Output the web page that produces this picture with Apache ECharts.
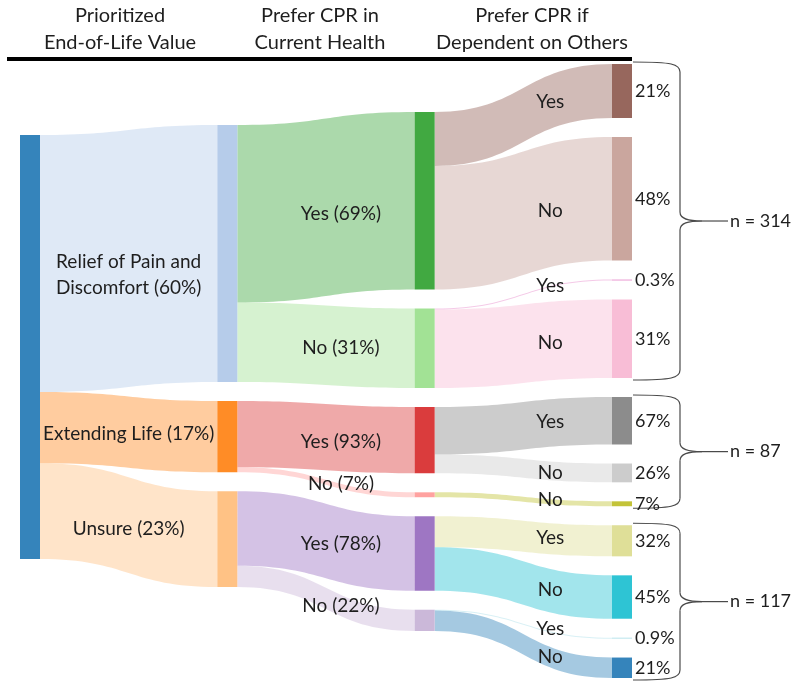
<!DOCTYPE html>
<html><head><meta charset="utf-8">
<script src="https://cdn.jsdelivr.net/npm/echarts@6/dist/echarts.min.js"></script>
<style>html,body{margin:0;padding:0;background:#fff}#c{width:800px;height:691px}</style>
</head><body><div id="c"></div>
<script>
// ---------- data ----------
const nodeNames = ['All', 'Relief', 'Extending', 'Unsure',
  'R-Yes', 'R-No', 'E-Yes', 'E-No', 'U-Yes', 'U-No',
  'RY-Yes', 'RY-No', 'RN-Yes', 'RN-No', 'EY-Yes', 'EY-No', 'EN-No', 'UY-Yes', 'UY-No', 'UN-Yes', 'UN-No'];
const linkSource = ['All', 'All', 'All', 'Relief', 'Relief', 'Extending', 'Extending', 'Unsure', 'Unsure',
  'R-Yes', 'R-Yes', 'R-No', 'R-No', 'E-Yes', 'E-Yes', 'E-No', 'U-Yes', 'U-Yes', 'U-No', 'U-No'];
const linkTarget = ['Relief', 'Extending', 'Unsure', 'R-Yes', 'R-No', 'E-Yes', 'E-No', 'U-Yes', 'U-No',
  'RY-Yes', 'RY-No', 'RN-Yes', 'RN-No', 'EY-Yes', 'EY-No', 'EN-No', 'UY-Yes', 'UY-No', 'UN-Yes', 'UN-No'];
const linkValue = [314, 87, 117, 217, 97, 81, 6, 91, 26, 66, 151, 1, 96, 58, 23, 6, 38, 53, 1, 25];
const linkLabels = ['Relief of Pain and\nDiscomfort (60%)', 'Extending Life (17%)', 'Unsure (23%)',
  'Yes (69%)', 'No (31%)', 'Yes (93%)', 'No (7%)', 'Yes (78%)', 'No (22%)',
  'Yes', 'No', 'Yes', 'No', 'Yes', 'No', 'No', 'Yes', 'No', 'Yes', 'No'];
const finalNodes = ['RY-Yes', 'RY-No', 'RN-Yes', 'RN-No', 'EY-Yes', 'EY-No', 'EN-No', 'UY-Yes', 'UY-No', 'UN-Yes', 'UN-No'];
const finalPct = ['21%', '48%', '0.3%', '31%', '67%', '26%', '7%', '32%', '45%', '0.9%', '21%'];
const headerLabels = ['Prioritized\nEnd-of-Life Value', 'Prefer CPR in\nCurrent Health', 'Prefer CPR if\nDependent on Others'];
const groupRoots = ['Relief', 'Extending', 'Unsure'];
const groupMembers = [['RY-Yes', 'RY-No', 'RN-Yes', 'RN-No'], ['EY-Yes', 'EY-No', 'EN-No'], ['UY-Yes', 'UY-No', 'UN-Yes', 'UN-No']];

// ---------- style / layout settings ----------
const palette = ['#1f77b4', '#aec7e8', '#ff7f0e', '#ffbb78', '#2ca02c', '#98df8a', '#d62728', '#ff9896',
  '#9467bd', '#c5b0d5', '#8c564b', '#c49c94', '#e377c2', '#f7b6d2', '#7f7f7f', '#c7c7c7',
  '#bcbd22', '#dbdb8d', '#17becf', '#9edae5'];
const columnShift = [71, 61, 48, 0];          // vertical offset of each packed column
const edgeLabelDx = [0, 15, 27];               // label x-nudge by source column
const edgeLabelDy = [16, 2, 4, 7, 3, 5, 2, 3, 8, -13, -2, -9, -1, -4, 4, 1, 2, 7, 5, 13]; // label y-nudge per flow
const FONT = 'Lato, "Open Sans", sans-serif';
const TXT = '#1e1e1e';

const chart = echarts.init(document.getElementById('c'), null, {renderer: 'canvas'});

function buildNodes(localYs) {
  return nodeNames.map((n, i) => {
    const fi = finalNodes.indexOf(n);
    const o = {
      name: n,
      itemStyle: {color: palette[i % palette.length], opacity: 0.9},
      label: fi >= 0 ? {show: true, formatter: finalPct[fi]} : {show: false}
    };
    if (localYs) o.localY = localYs[i];
    return o;
  });
}
function buildLinks(depths) {
  return linkSource.map((s, i) => {
    const o = {source: s, target: linkTarget[i], value: linkValue[i]};
    if (depths) {
      o.edgeLabel = {offset: [edgeLabelDx[depths[nodeNames.indexOf(s)]], edgeLabelDy[i]]};
    }
    return o;
  });
}

function seriesOpt(nodes, links) {
  return {
    type: 'sankey',
    left: 20, top: 64, right: 168, bottom: 13,
    nodeWidth: 20,
    nodeGap: 19,
    layoutIterations: 0,
    nodeAlign: 'justify',
    draggable: false,
    emphasis: {disabled: true},
    data: nodes,
    links: links,
    itemStyle: {borderWidth: 0},
    lineStyle: {color: 'target', opacity: 0.4, curveness: 0.5},
    label: {show: false, position: 'right', distance: 3, fontFamily: FONT, fontSize: 18, color: TXT},
    edgeLabel: {
      show: true,
      formatter: p => linkLabels[p.dataIndex],
      fontFamily: FONT, fontSize: 19, color: TXT, lineHeight: 26
    }
  };
}

chart.setOption({animation: false, series: [seriesOpt(buildNodes(null), buildLinks(null))]});

// shift each packed column by its offset
let sm = chart.getModel().getSeriesByIndex(0);
let info = sm.layoutInfo;
let nd = sm.getData();
const depths = nodeNames.map((n, i) => nd.getItemLayout(i).depth);
const localYs = nodeNames.map((n, i) => {
  const l = nd.getItemLayout(i);
  return (l.y + columnShift[l.depth]) / info.height;
});
chart.setOption({series: [seriesOpt(buildNodes(localYs), buildLinks(depths))]});

// ---------- annotations derived from the sankey layout ----------
sm = chart.getModel().getSeriesByIndex(0);
info = sm.layoutInfo;
nd = sm.getData();
function box(name) {
  const i = nodeNames.indexOf(name);
  const l = nd.getItemLayout(i);
  return {x: info.x + l.x, y: info.y + localYs[i] * info.height, w: l.dx, h: l.dy};
}
const graphics = [];
const headerX = [120, 320, 532];
headerLabels.forEach((h, i) => {
  graphics.push({type: 'text', x: headerX[i], y: 2.5, silent: true,
    style: {text: h, fontFamily: FONT, fontSize: 20, lineHeight: 27, fill: TXT, align: 'center', verticalAlign: 'top'}});
});
const lastBox = box(finalNodes[0]);
const x0 = lastBox.x + lastBox.w + 1;
graphics.push({type: 'rect', shape: {x: 7, y: 57, width: x0 - 8, height: 4}, style: {fill: '#000'}, silent: true});
const bs = {stroke: '#4a4a4a', lineWidth: 1.2, fill: null};
groupMembers.forEach((mem, gi) => {
  const a = box(mem[0]), b = box(mem[mem.length - 1]);
  const t = a.y - 2, bt = b.y + b.h + 2, m = (t + bt) / 2;
  const xs = x0 + 47, xt = xs + 22, xe = xs + 48;
  const parts = [
    {type: 'bezierCurve', shape: {x1: x0, y1: t, cpx1: xs - 8, cpy1: t, cpx2: xs, cpy2: t + 2, x2: xs, y2: t + 10}},
    {type: 'line', shape: {x1: xs, y1: t + 10, x2: xs, y2: m - 9}},
    {type: 'bezierCurve', shape: {x1: xs, y1: m - 9, cpx1: xs, cpy1: m - 2, cpx2: xs + 8, cpy2: m, x2: xt, y2: m}},
    {type: 'bezierCurve', shape: {x1: xt, y1: m, cpx1: xs + 8, cpy1: m, cpx2: xs, cpy2: m + 2, x2: xs, y2: m + 9}},
    {type: 'line', shape: {x1: xs, y1: m + 9, x2: xs, y2: bt - 10}},
    {type: 'bezierCurve', shape: {x1: xs, y1: bt - 10, cpx1: xs, cpy1: bt - 2, cpx2: xs - 8, cpy2: bt, x2: x0, y2: bt}},
    {type: 'line', shape: {x1: xt, y1: m, x2: xe, y2: m}}
  ];
  parts.forEach(p => { p.style = bs; p.silent = true; graphics.push(p); });
  const n = linkValue[linkTarget.indexOf(groupRoots[gi])];
  graphics.push({type: 'text', x: xe + 2, y: m, silent: true,
    style: {text: 'n = ' + n, fontFamily: FONT, fontSize: 18, fill: TXT, verticalAlign: 'middle'}});
});
chart.setOption({graphic: graphics});
</script>
</body></html>
